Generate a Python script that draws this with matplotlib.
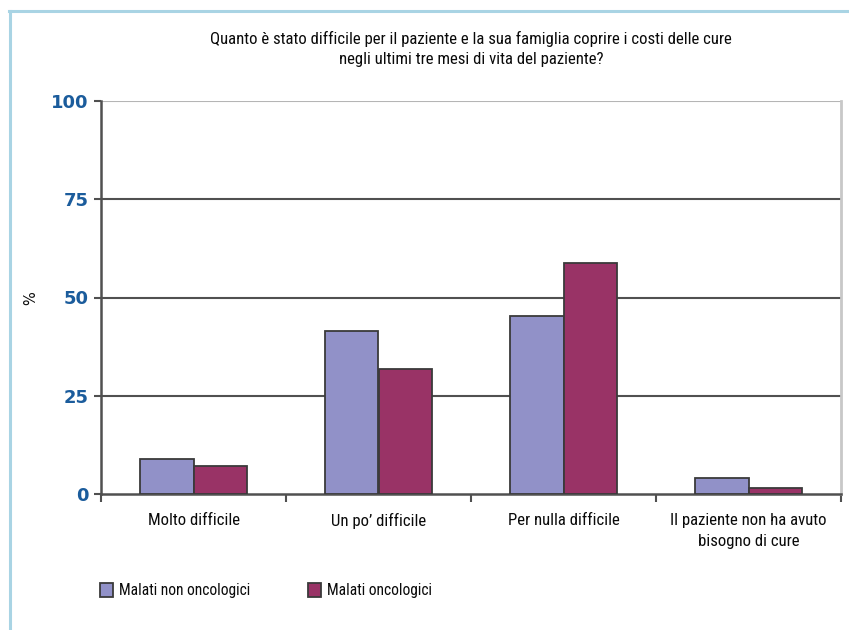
import matplotlib
matplotlib.use("Agg")
import matplotlib.pyplot as plt
import numpy as np
from matplotlib.patches import Rectangle
from matplotlib.lines import Line2D

plt.rcParams['font.family'] = ['Roboto Condensed', 'Liberation Sans', 'DejaVu Sans']

categories = ["Molto difficile", "Un po\u2019 difficile", "Per nulla difficile",
              "Il paziente non ha avuto\nbisogno di cure"]
non_oncologici = [9.0, 41.5, 45.3, 4.1]
oncologici = [7.1, 31.8, 58.7, 1.5]
series_names = ["Malati non oncologici", "Malati oncologici"]
y_ticks = [0, 25, 50, 75, 100]
title = ("Quanto \u00e8 stato difficile per il paziente e la sua famiglia coprire i costi delle cure\n"
         "negli ultimi tre mesi di vita del paziente?")

c_blue = "#9191c8"
c_red = "#993366"
edge = "#3a3a3a"
txt = "#0a0a0a"

W, H = 849, 630
fig = plt.figure(figsize=(W / 100, H / 100), dpi=100)

# light-blue frame lines along the top and left edges
fig.add_artist(Line2D([9 / W, 1.0], [1 - 10.5 / H, 1 - 10.5 / H], color="#a9d4e4", lw=2.2))
fig.add_artist(Line2D([9.5 / W, 9.5 / W], [0, 1 - 10.5 / H], color="#a9d4e4", lw=2.2))

ax = fig.add_axes([101 / W, 1 - 494 / H, (841 - 101) / W, (494 - 101) / H])

x = np.arange(len(categories))
bw = 0.287
ax.bar(x - bw / 2, non_oncologici, width=bw, color=c_blue, edgecolor=edge, linewidth=1.3, zorder=3)
ax.bar(x + bw / 2, oncologici, width=bw, color=c_red, edgecolor=edge, linewidth=1.3, zorder=3)

ax.set_xlim(-0.5, len(categories) - 0.5)
ax.set_ylim(0, 100)

# horizontal gridlines
for v in y_ticks[1:4]:
    ax.axhline(v, color="#505050", lw=1.5, zorder=1)
ax.axhline(100, color="#b5b5b5", lw=1.5, zorder=1)

ax.spines["top"].set_visible(False)
ax.spines["right"].set_color("#c8c8c8")
ax.spines["right"].set_linewidth(2)
for side in ["left", "bottom"]:
    ax.spines[side].set_color("#505050")
    ax.spines[side].set_linewidth(1.8)

ax.set_yticks(y_ticks)
ax.set_yticklabels([str(v) for v in y_ticks], fontfamily="DejaVu Sans",
                   fontweight="bold", color="#1b5c9c", fontsize=13)
ax.tick_params(axis="y", length=5, width=1.5, color="#505050", pad=4)

ax.set_xticks(np.arange(len(categories) + 1) - 0.5)
ax.set_xticklabels([])
ax.tick_params(axis="x", length=6, width=1.5, color="#505050")
for i, c in enumerate(categories):
    ax.text(i, -4.8, c, ha="center", va="top", fontsize=12.1, color=txt,
            linespacing=1.5)

# y-axis label
fig.text(31 / W, 1 - 298 / H, "%", rotation=90, ha="center", va="center",
         fontsize=10.5, fontfamily="DejaVu Sans", color=txt)

fig.text(471 / W, 1 - 31 / H, title, ha="center", va="top", fontsize=12.1,
         color=txt, linespacing=1.45)

# legend
for lx, name, col in [(100, series_names[0], c_blue), (308, series_names[1], c_red)]:
    fig.add_artist(Rectangle((lx / W, 1 - 597 / H), 13 / W, 14 / H, facecolor=col,
                             edgecolor=edge, linewidth=1.3, transform=fig.transFigure))
    fig.text((lx + 19) / W, 1 - 590 / H, name, ha="left", va="center", fontsize=11.2,
             color=txt)

fig.savefig("out.png", dpi=100, facecolor="white")
